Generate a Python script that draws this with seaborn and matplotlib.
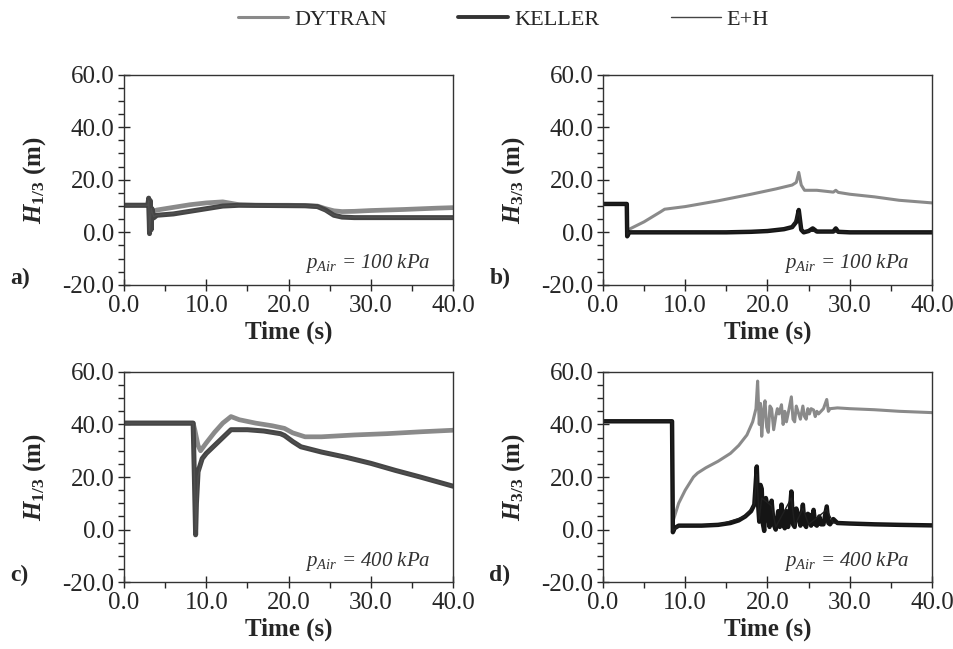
import matplotlib
matplotlib.use("Agg")
import matplotlib.pyplot as plt
import matplotlib.ticker as ticker
from matplotlib.lines import Line2D
import pandas as pd
import seaborn as sns

# ---- data (time in s, height in m) ----
# panel a) H1/3, p_Air = 100 kPa
a_dyt_t = [0, 2.9, 3.0, 3.1, 3.2, 3.3, 3.5, 4, 6, 8, 10, 12, 14, 16, 18, 20, 22, 23.5, 24.5, 25.5, 26.5, 28, 30, 34, 38, 40]
a_dyt_h = [10.3, 10.3, 13, 2, 11, 7, 8, 8.5, 9.5, 10.5, 11.2, 11.6, 10.5, 10.3, 10.3, 10.3, 10.2, 10, 9, 8.2, 7.9, 8.0, 8.3, 8.7, 9.2, 9.4]
a_kel_t = [0, 2.9, 3.0, 3.1, 3.2, 3.3, 3.4, 3.6, 4, 6, 8, 10, 12, 14, 18, 22, 23.5, 24.5, 25.5, 26.5, 28, 32, 36, 40]
a_kel_h = [10.3, 10.3, 13, -0.5, 12, 1, 9, 5.5, 6.5, 7, 8, 9, 10, 10.3, 10.2, 10.1, 9.8, 8.5, 6.5, 5.8, 5.6, 5.6, 5.6, 5.6]
a_eh_t = [0, 2.9, 3.0, 3.1, 3.3, 3.6, 4, 8, 12, 14, 22, 23.5, 25.5, 26.5, 40]
a_eh_h = [10.3, 10.3, 12, 0.5, 9, 6, 6.5, 8, 10, 10.3, 10.1, 9.8, 6.5, 5.8, 5.6]

# panel b) H3/3, p_Air = 100 kPa
b_dyt_t = [0, 2.9, 2.95, 3.2, 5, 7, 7.5, 8.5, 10, 14, 18, 21, 23, 23.5, 23.8, 24.1, 24.5, 26, 28, 28.3, 28.6, 30, 33, 36, 40]
b_dyt_h = [10.8, 10.8, 1.0, 1.2, 4, 7.8, 8.8, 9.2, 9.8, 12, 14.5, 16.5, 18, 19, 22.8, 18, 16, 16, 15.3, 16, 15.2, 14.5, 13.5, 12.2, 11.2]
b_kel_t = [0, 2.9, 2.95, 3.2, 5, 10, 15, 18, 20, 22, 23, 23.5, 23.8, 24.1, 24.4, 25, 25.5, 26, 28, 28.3, 28.6, 30, 35, 40]
b_kel_h = [10.8, 10.8, -1.5, 0, 0, 0, 0, 0.2, 0.5, 1.2, 2, 4, 8.5, 1, 0, 0.5, 1.5, 0.3, 0.3, 1.5, 0.2, 0, 0, 0]
b_eh_t = [0, 2.9, 2.95, 3.2, 10, 20, 23, 23.8, 24.2, 30, 40]
b_eh_h = [10.8, 10.8, -1.0, 0, 0, 0.4, 1.8, 7.5, 0.5, 0, 0]

# panel c) H1/3, p_Air = 400 kPa
c_dyt_t = [0, 8.4, 8.6, 9.0, 9.3, 10, 11, 12, 13, 14, 16, 18, 19.5, 20.5, 22, 24, 28, 32, 36, 40]
c_dyt_h = [40.5, 40.5, 38, 32, 30, 33, 37, 40.5, 43, 41.8, 40.5, 39.5, 38.5, 36.8, 35.3, 35.3, 36, 36.5, 37.2, 37.8]
c_kel_t = [0, 8.4, 8.55, 8.7, 8.8, 9.0, 9.5, 10, 11, 12, 13, 15, 17, 19, 19.5, 20.5, 21.5, 24, 27, 30, 33, 36, 40]
c_kel_h = [40.5, 40.5, 20, -2, 10, 22, 27, 29, 32, 35, 38, 38, 37.5, 36.5, 35.8, 33.5, 31.5, 29.5, 27.5, 25.2, 22.5, 20, 16.5]
c_eh_t = [0, 8.4, 8.6, 8.75, 9.0, 9.5, 11, 13, 17, 19.5, 21.5, 27, 33, 40]
c_eh_h = [40.5, 40.5, 15, 0, 20, 27, 32, 38, 37.5, 35.8, 31.5, 27.5, 22.5, 16.5]

# panel d) H3/3, p_Air = 400 kPa
d_dyt_t = [0, 8.4, 8.5, 8.7, 9.2, 10, 11, 11.5, 12.5, 14, 15.5, 16.5, 17.5, 18.2, 18.6, 18.8, 19.0, 19.15, 19.3, 19.5, 19.7, 19.9, 20.1,
           20.3, 20.5, 20.75, 21.0, 21.2, 21.4, 21.7, 21.9, 22.1, 22.3, 22.5, 22.9, 23.1, 23.3, 23.5, 23.7, 24.0, 24.3, 24.5,
           24.7, 24.9, 25.1, 25.3, 25.6, 25.8, 26.0, 26.2, 26.5, 26.8, 27.2, 27.4, 27.6, 28.5, 30, 33, 36, 40]
d_dyt_h = [41.2, 41.2, 3, 5, 10, 15, 20, 21.5, 23.5, 26, 29, 32, 36, 41, 46, 56.5, 40, 48, 35.5, 45, 49, 39, 37,
           47, 46, 38, 43, 46, 44, 47.5, 40, 45, 41, 44, 50.5, 42, 41, 47, 45, 42, 47, 43,
           42, 46, 44, 46, 45.5, 43, 45, 44, 45, 46, 49.5, 45, 46, 46.3, 46, 45.6, 45, 44.5]
d_kel_t = [0, 8.4, 8.5, 8.7, 9.2, 10, 12, 14, 15.5, 16.5, 17.3, 18.0, 18.4, 18.7, 18.85, 19.0, 19.15, 19.3, 19.45, 19.6, 19.8, 20.0,
           20.25, 20.5, 20.75, 21.0, 21.3, 21.5, 21.7, 21.9, 22.1, 22.3, 22.5, 22.7, 22.9, 23.1, 23.3, 23.5, 23.7, 24.0, 24.3,
           24.5, 24.7, 24.9, 25.1, 25.3, 25.6, 25.8, 26.0, 26.3, 26.5, 26.8, 27.2, 27.4, 27.6, 28.0, 28.5, 30, 33, 36, 40]
d_kel_h = [41.2, 41.2, -1.0, 0.5, 1.5, 1.5, 1.5, 1.8, 2.5, 3.5, 5, 7, 9.5, 24, 10, 3, 17, 15.5, 2, -0.5, 12, 9,
           1, 11, 2, 0, 7, 1, 9.5, 2, 0.5, 7, 1, 6, 14.5, 2, 1, 8, 6, 1.5, 9.5,
           2, 1, 6, 5.5, 1.5, 7.5, 2, 1.5, 5, 2, 2, 8.8, 2.5, 2, 4.0, 2.5, 2.3, 2.0, 1.8, 1.6]
d_eh_t = [0, 8.4, 8.5, 9.2, 14, 17.3, 18.4, 18.7, 19.0, 19.3, 20.5, 21.0, 22.9, 23.3, 24.3, 25.0, 27.2, 28, 33, 40]
d_eh_h = [41.2, 41.2, -0.5, 1.5, 1.8, 5, 9.5, 21, 4, 12, 9, 1, 12, 1.5, 8, 2, 7.5, 2.5, 2, 1.5]

panels = {
    "a": dict(series=[(a_dyt_t, a_dyt_h), (a_kel_t, a_kel_h), (a_eh_t, a_eh_h)], ylab="1/3", p="100"),
    "b": dict(series=[(b_dyt_t, b_dyt_h), (b_kel_t, b_kel_h), (b_eh_t, b_eh_h)], ylab="3/3", p="100"),
    "c": dict(series=[(c_dyt_t, c_dyt_h), (c_kel_t, c_kel_h), (c_eh_t, c_eh_h)], ylab="1/3", p="400"),
    "d": dict(series=[(d_dyt_t, d_dyt_h), (d_kel_t, d_kel_h), (d_eh_t, d_eh_h)], ylab="3/3", p="400"),
}
names = ["DYTRAN", "KELLER", "E+H"]

sns.set_style("ticks")
plt.rcParams['font.family'] = ['Liberation Serif', 'DejaVu Serif']
plt.rcParams['mathtext.fontset'] = 'custom'
plt.rcParams['mathtext.rm'] = 'Liberation Serif'
plt.rcParams['mathtext.it'] = 'Liberation Serif:italic'
plt.rcParams['mathtext.bf'] = 'Liberation Serif:bold'
plt.rcParams['mathtext.bfit'] = 'Liberation Serif:italic:bold'

fig = plt.figure(figsize=(9.54, 6.49), dpi=100)
positions = {"a": [0.130, 0.561, 0.345, 0.324], "b": [0.632, 0.561, 0.345, 0.324],
             "c": [0.130, 0.103, 0.345, 0.324], "d": [0.632, 0.103, 0.345, 0.324]}

# colours / widths for DYTRAN, KELLER, E+H (dark lines darker in b and d)
styles_light = [("#8a8a8a", 3.4), ("#454545", 3.6), ("#505050", 1.0)]
styles_dark = [("#8a8a8a", 2.2), ("#151515", 3.2), ("#202020", 1.0)]

for key, info in panels.items():
    ax = fig.add_axes(positions[key])
    styles = styles_light if key in ("a", "c") else styles_dark
    for (t, h), name, (col, lw) in zip(info["series"], names, styles):
        df = pd.DataFrame({"t": t, "h": h})
        sns.lineplot(data=df, x="t", y="h", ax=ax, color=col, linewidth=lw,
                     sort=False, estimator=None, legend=False)
    ax.set_xlim(0, 40)
    ax.set_ylim(-20, 60)
    ax.xaxis.set_major_locator(ticker.MultipleLocator(10))
    ax.xaxis.set_minor_locator(ticker.MultipleLocator(5))
    ax.yaxis.set_major_locator(ticker.MultipleLocator(20))
    ax.yaxis.set_minor_locator(ticker.MultipleLocator(5))
    ax.xaxis.set_major_formatter(ticker.FormatStrFormatter('%.1f'))
    ax.yaxis.set_major_formatter(ticker.FormatStrFormatter('%.1f'))
    ax.tick_params(which='major', direction='inout', length=8, width=1, labelsize=18, pad=3)
    ax.tick_params(which='minor', direction='out', length=4, width=1)
    for s in ax.spines.values():
        s.set_linewidth(1.0)
        s.set_color('#333333')
    ax.set_xlabel("Time (s)", fontsize=18, fontweight='bold', labelpad=3)
    ax.set_ylabel(r"$\mathbfit{H}_{\mathbf{" + info["ylab"] + r"}}$ (m)", fontsize=18,
                  fontweight='bold', labelpad=10)
    ax.text(0.74, 0.10, r"$p_{Air}$ = " + info["p"] + " kPa", transform=ax.transAxes,
            ha='center', va='center', fontsize=15, style='italic', color='#333333')
    ax.text(-0.345, 0.03, key + ")", transform=ax.transAxes, ha='left', va='center',
            fontsize=17, fontweight='bold')

# legend keys drawn thinner than the data lines, as in the reference
handles = [Line2D([0], [0], color="#8a8a8a", lw=2.2),
           Line2D([0], [0], color="#333333", lw=2.8),
           Line2D([0], [0], color="#444444", lw=1.0)]
fig.legend(handles, names, loc='center', bbox_to_anchor=(0.528, 0.970), ncol=3,
           frameon=False, fontsize=16, handlelength=2.25, handletextpad=0.27,
           columnspacing=3.2)

fig.savefig("out.png", dpi=100)
